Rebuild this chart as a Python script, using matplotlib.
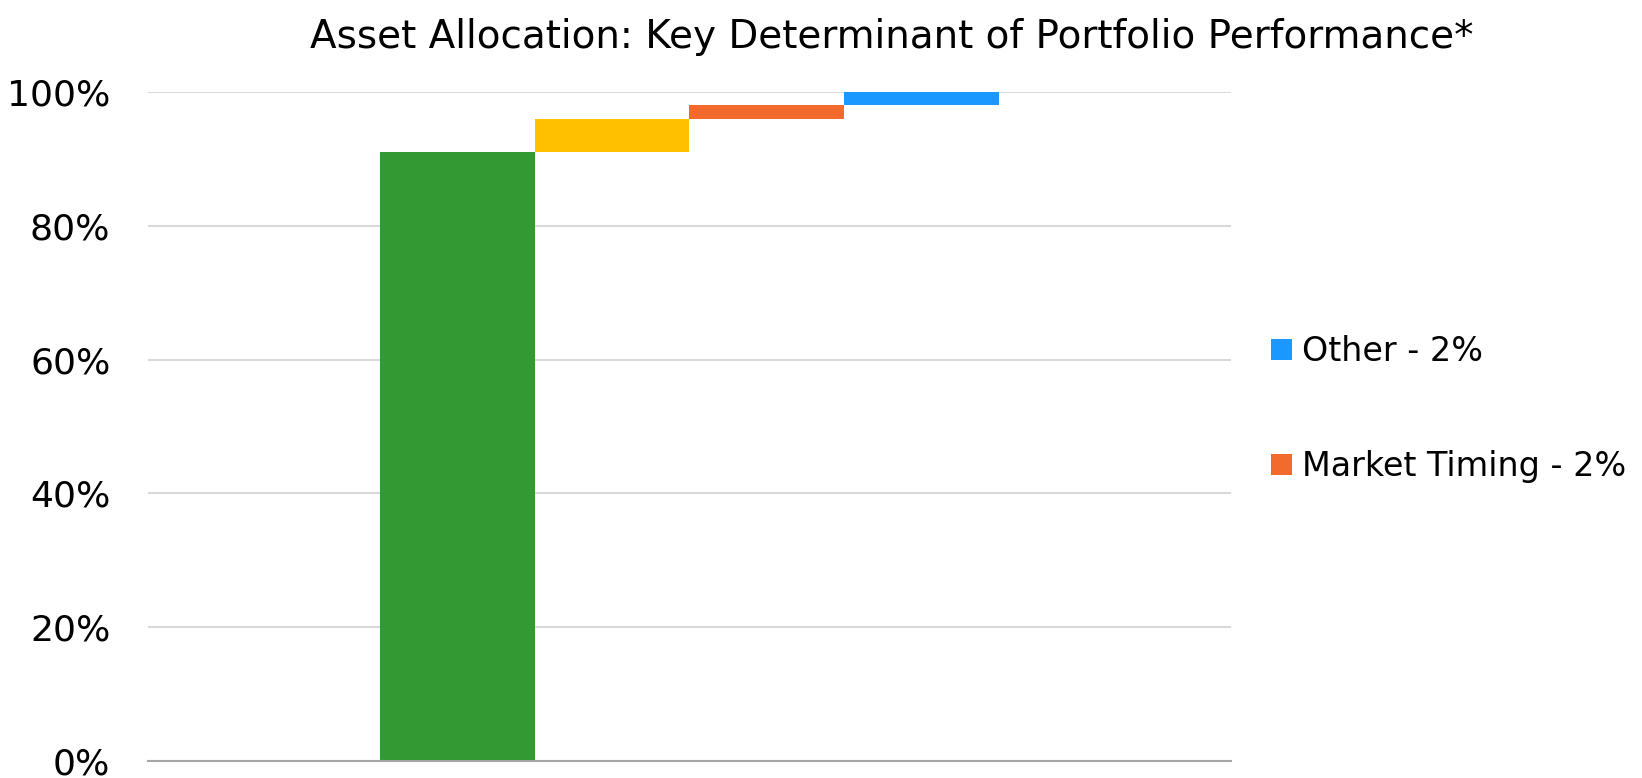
import matplotlib
matplotlib.use("Agg")
import matplotlib.pyplot as plt
import numpy as np

# Data
categories = ["Asset Allocation", "Security Selection", "Market Timing", "Other"]
values = [91, 5, 2, 2]
colors = ["#339933", "#FFC000", "#F26A2C", "#1A98FF"]
legend_labels = {"Other": "Other - 2%", "Market Timing": "Market Timing - 2%"}
legend_order = ["Other", "Market Timing"]
yticks = [0, 20, 40, 60, 80, 100]
title = "Asset Allocation: Key Determinant of Portfolio Performance*"

plt.rcParams['font.family'] = ['DejaVu Sans']

fig = plt.figure(figsize=(16.42, 7.78), dpi=100)
ax = fig.add_axes([0.0901, 0.0219, 0.6596, 0.8598])

vals = np.array(values, dtype=float)
bases = np.concatenate([[0], np.cumsum(vals)[:-1]])
x = np.arange(len(categories))
bars = ax.bar(x, vals, bottom=bases, width=1.0, color=colors, zorder=3)

ax.set_xlim(-2, len(categories) + 1)
ax.set_ylim(0, 100)
ax.set_yticks(yticks)
ax.set_yticklabels([f"{t}%" for t in yticks], fontsize=26)
ax.set_xticks([])
ax.grid(axis='y', color='#d9d9d9', linewidth=1.5, zorder=0)
for s in ['top', 'right', 'left']:
    ax.spines[s].set_visible(False)
ax.spines['bottom'].set_color('#a6a6a6')
ax.spines['bottom'].set_linewidth(1.5)
ax.spines['bottom'].set_zorder(4)
ax.tick_params(axis='y', length=0, pad=27)

handles = [bars[categories.index(c)] for c in legend_order]
labels = [legend_labels[c] for c in legend_order]
fig.legend(handles, labels, loc='center left', bbox_to_anchor=(0.756, 0.474),
           frameon=False, fontsize=24, handlelength=0.62, handleheight=0.62,
           handletextpad=0.3, labelspacing=2.45)

fig.text(0.543, 0.953, title, ha='center', va='center', fontsize=28)

fig.savefig("out.png", dpi=100)
